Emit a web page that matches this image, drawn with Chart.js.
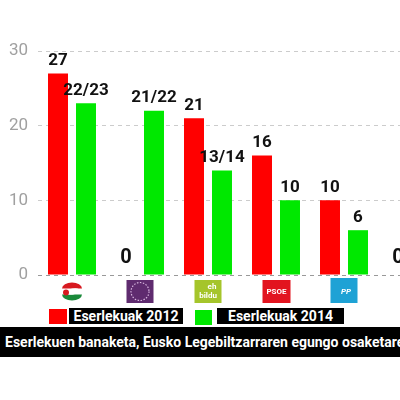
<!DOCTYPE html>
<html>
<head>
<meta charset="utf-8">
<script src="https://cdn.jsdelivr.net/npm/chart.js@4"></script>
<style>
    html, body { margin:0; padding:0; width:400px; height:400px; overflow:hidden; background:#fff; }
    #wrap { position:absolute; left:0; top:0; width:450px; height:305px; }
    .sq { position:absolute; }
    .lbl { position:absolute; background:#000; color:#fff; font:bold 14px "Roboto", sans-serif; text-align:center; line-height:16px; height:16px; white-space:nowrap; }
    #titulo { position:absolute; left:0; top:327px; width:400px; height:30px; background:#000; color:#fff; font:bold 14px "Roboto", sans-serif; letter-spacing:0px; line-height:30px; padding-left:5px; white-space:nowrap; overflow:hidden; box-sizing:border-box; }
</style>
</head>
<body>
<div id="wrap"><canvas id="grafico"></canvas></div>

<div class="sq" style="left:49px; top:309px; width:18px; height:15px; background:#ff0000;"></div>
<div class="lbl" id="leg2012" style="left:69px; top:308px; width:114px;"></div>
<div class="sq" style="left:195px; top:310px; width:17px; height:15px; background:#00e800;"></div>
<div class="lbl" id="leg2014" style="left:217px; top:308px; width:127px;"></div>
<div id="titulo"></div>

<script>
// Datos del gráfico (escaños por partido)
const partidos = ["PNV", "Podemos", "EH Bildu", "PSOE", "PP", "Otros"];
const escanos2012 = [27, 0, 21, 16, 10, 0];
const escanos2014 = [23, 22, 14, 10, 6, null];
const etiquetas2012 = ["27", "0", "21", "16", "10", "0"];
const etiquetas2014 = ["22/23", "21/22", "13/14", "10", "6", ""];
const nombresSeries = ["Eserlekuak 2012", "Eserlekuak 2014"];
const ticksY = [0, 10, 20, 30];
const tituloTexto = "Eserlekuen banaketa, Eusko Legebiltzarraren egungo osaketaren arabera";

document.getElementById("leg2012").innerText = nombresSeries[0];
document.getElementById("leg2014").innerText = nombresSeries[1];
document.getElementById("titulo").innerText = tituloTexto;

// Etiquetas encima de cada barra
const etiquetasPlugin = {
    id: 'etiquetas',
    afterDatasetsDraw(chart) {
        const ctx = chart.ctx;
        const listas = [etiquetas2012, etiquetas2014];
        ctx.save();
        ctx.fillStyle = '#111';
        ctx.textAlign = 'center';
        ctx.textBaseline = 'bottom';
        chart.data.datasets.forEach((ds, d) => {
            const meta = chart.getDatasetMeta(d);
            meta.data.forEach((bar, i) => {
                const txt = listas[d][i];
                if (!txt) return;
                const esCero = ds.data[i] === 0;
                ctx.font = esCero ? 'bold 20px Roboto' : 'bold 17px Roboto';
                const yTop = chart.scales.y.getPixelForValue(ds.data[i] || 0);
                ctx.fillText(txt, bar.x, yTop - (esCero ? 7 : 4));
            });
        });
        ctx.restore();
    }
};

// Logos simplificados de los partidos bajo el eje
const logosPlugin = {
    id: 'logos',
    afterDraw(chart) {
        const ctx = chart.ctx;
        const xs = chart.scales.x;
        const top = chart.chartArea.bottom + 5;
        const w = 27, h = 23;
        ctx.save();
        partidos.forEach((p, i) => {
            const cx = xs.getPixelForValue(i);
            const x0 = cx - w / 2;
            ctx.textAlign = 'center';
            ctx.textBaseline = 'middle';
            if (p === "PNV") {
                const cy = top + h / 2;
                ctx.fillStyle = '#d71920';
                ctx.beginPath(); ctx.ellipse(cx, cy - 3, 10, 6, 0, Math.PI, Math.PI * 2); ctx.fill();
                ctx.fillStyle = '#1a8a3a';
                ctx.beginPath(); ctx.ellipse(cx, cy + 3, 10, 6, 0, 0, Math.PI); ctx.fill();
                ctx.fillStyle = '#fff';
                ctx.beginPath(); ctx.ellipse(cx + 1, cy, 7, 3, -0.2, 0, Math.PI * 2); ctx.fill();
                ctx.fillStyle = '#d71920';
                ctx.beginPath(); ctx.arc(cx - 6, cy + 1, 3, 0, Math.PI * 2); ctx.fill();
            } else if (p === "Podemos") {
                ctx.fillStyle = '#5f2b6f';
                ctx.fillRect(x0, top, w, h);
                ctx.strokeStyle = '#d9b8e0';
                ctx.lineWidth = 1.2;
                ctx.setLineDash([1.5, 1.5]);
                ctx.beginPath(); ctx.arc(cx, top + h / 2, 9, 0, Math.PI * 2); ctx.stroke();
                ctx.setLineDash([]);
            } else if (p === "EH Bildu") {
                ctx.fillStyle = '#a5c52b';
                ctx.fillRect(x0, top, w, h);
                ctx.fillStyle = '#fff';
                ctx.font = 'bold 8px Roboto';
                ctx.fillText('eh', cx + 4, top + 7);
                ctx.fillText('bildu', cx, top + 16);
            } else if (p === "PSOE") {
                ctx.fillStyle = '#e2141f';
                ctx.fillRect(x0, top, w + 1, h);
                ctx.fillStyle = '#fff';
                ctx.font = 'bold 8px Roboto';
                ctx.fillText('PSOE', cx + 0.5, top + h / 2);
            } else if (p === "PP") {
                ctx.fillStyle = '#1ea2d5';
                ctx.fillRect(x0, top - 2, w, h + 2);
                ctx.fillStyle = '#fff';
                ctx.font = 'italic bold 8px Roboto';
                ctx.fillText('PP', cx + 2, top + h / 2);
            }
        });
        ctx.restore();
    }
};

const ctx = document.getElementById('grafico').getContext('2d');
new Chart(ctx, {
    type: 'bar',
    data: {
        labels: partidos,
        datasets: [
            { label: nombresSeries[0], data: escanos2012, backgroundColor: '#ff0000' },
            { label: nombresSeries[1], data: escanos2014, backgroundColor: '#00e800' }
        ]
    },
    options: {
        responsive: true,
        maintainAspectRatio: false,
        animation: false,
        categoryPercentage: 0.8235,
        barPercentage: 0.714,
        layout: { padding: { top: 51, right: 4, left: 0, bottom: 0 } },
        plugins: {
            legend: { display: false },
            tooltip: { enabled: false }
        },
        scales: {
            x: {
                grid: { display: false },
                border: { display: false },
                ticks: { display: false },
                afterFit: function(scale) { scale.height = 30; }
            },
            y: {
                min: 0,
                max: 30,
                afterBuildTicks: function(scale) { scale.ticks = ticksY.map(v => ({ value: v })); },
                afterFit: function(scale) { scale.width = 38; },
                grid: {
                    drawTicks: false,
                    color: function(c) { return c.tick && c.tick.value === 0 ? '#999' : '#ccc'; }
                },
                border: { display: false, dash: [4, 4] },
                ticks: {
                    padding: 10,
                    color: '#a0a0a0',
                    font: { family: 'Roboto', size: 17 }
                }
            }
        }
    },
    plugins: [etiquetasPlugin, logosPlugin]
});
</script>
</body>
</html>
